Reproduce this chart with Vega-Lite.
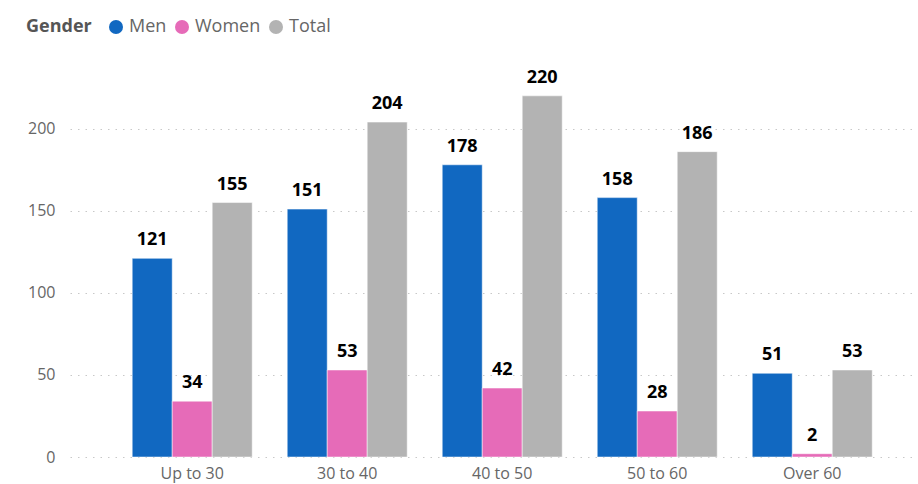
{
  "$schema": "https://vega.github.io/schema/vega-lite/v6.json",
  "width": 842,
  "height": 394,
  "autosize": "none",
  "padding": {"left": 70, "top": 63, "right": 6, "bottom": 27},
  "background": "white",
  "config": {
    "font": "Open Sans",
    "view": {"stroke": null}
  },
  "data": {
    "values": [
      {"age": "Up to 30", "gender": "Men", "count": 121},
      {"age": "Up to 30", "gender": "Women", "count": 34},
      {"age": "Up to 30", "gender": "Total", "count": 155},
      {"age": "30 to 40", "gender": "Men", "count": 151},
      {"age": "30 to 40", "gender": "Women", "count": 53},
      {"age": "30 to 40", "gender": "Total", "count": 204},
      {"age": "40 to 50", "gender": "Men", "count": 178},
      {"age": "40 to 50", "gender": "Women", "count": 42},
      {"age": "40 to 50", "gender": "Total", "count": 220},
      {"age": "50 to 60", "gender": "Men", "count": 158},
      {"age": "50 to 60", "gender": "Women", "count": 28},
      {"age": "50 to 60", "gender": "Total", "count": 186},
      {"age": "Over 60", "gender": "Men", "count": 51},
      {"age": "Over 60", "gender": "Women", "count": 2},
      {"age": "Over 60", "gender": "Total", "count": 53}
    ]
  },
  "encoding": {
    "x": {
      "field": "age",
      "type": "nominal",
      "sort": ["Up to 30", "30 to 40", "40 to 50", "50 to 60", "Over 60"],
      "scale": {"paddingInner": 0.226, "paddingOuter": 0.329, "align": 0.61},
      "axis": {
        "title": null,
        "domain": false,
        "ticks": false,
        "labelAngle": 0,
        "labelFontSize": 16,
        "labelColor": "#666666",
        "labelPadding": 8
      }
    },
    "xOffset": {
      "field": "gender",
      "type": "nominal",
      "sort": ["Men", "Women", "Total"],
      "scale": {"paddingInner": 0, "paddingOuter": 0}
    },
    "y": {
      "field": "count",
      "type": "quantitative",
      "scale": {"domain": [0, 240]},
      "axis": {
        "title": null,
        "values": [0, 50, 100, 150, 200],
        "domain": false,
        "ticks": false,
        "labelFontSize": 16,
        "labelColor": "#666666",
        "labelPadding": 15,
        "gridColor": "#c8c8c8",
        "gridDash": [1.5, 6],
        "gridWidth": 1
      }
    }
  },
  "layer": [
    {
      "mark": {"type": "bar", "stroke": "white", "strokeWidth": 0.5},
      "encoding": {
        "color": {
          "field": "gender",
          "type": "nominal",
          "sort": ["Men", "Women", "Total"],
          "scale": {"domain": ["Men", "Women", "Total"], "range": ["#1168C1", "#E66BB8", "#B3B3B3"]},
          "legend": {
            "title": "Gender",
            "orient": "none",
            "legendX": -44,
            "legendY": -45,
            "direction": "horizontal",
            "titleOrient": "left",
            "titleFontSize": 18,
            "titleFontWeight": "bold",
            "titleColor": "#555555",
            "titlePadding": 15,
            "labelFontSize": 18,
            "labelColor": "#666666",
            "labelOffset": 4,
            "columnPadding": 6,
            "symbolType": "circle",
            "symbolSize": 196,
            "symbolStrokeWidth": 0
          }
        }
      }
    },
    {
      "mark": {"type": "text", "baseline": "alphabetic", "dy": -13, "fontSize": 18, "fontWeight": "bold", "color": "#000000"},
      "encoding": {
        "text": {"field": "count", "type": "quantitative"}
      }
    }
  ]
}
